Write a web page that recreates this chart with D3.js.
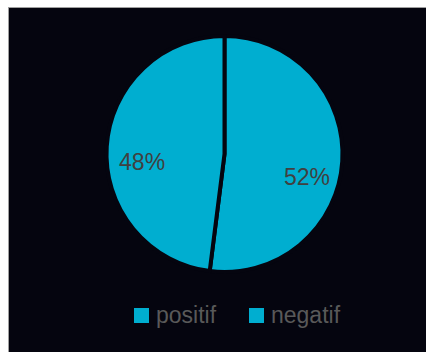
<!DOCTYPE html>
<html>
<head>
<script src="https://d3js.org/d3.v7.min.js"></script>
<style>
  body { margin: 0; background: #ffffff; }
  svg { display: block; }
</style>
</head>
<body>
<div id="chart"></div>
<script>
var categories = ["positif", "negatif"];
var values = [52, 48];
var labels = ["52%", "48%"];

var width = 426, height = 352;
var bg = "#05050f", sliceColor = "#00aed0";

var svg = d3.select("#chart").append("svg")
  .attr("width", width)
  .attr("height", height);

// white margin and grey frame like the original slide
svg.append("rect").attr("x", 8).attr("y", 7).attr("width", width - 8).attr("height", height - 7)
  .attr("fill", "#a0a0a0");
svg.append("rect").attr("x", 9).attr("y", 8).attr("width", width - 9).attr("height", height - 8)
  .attr("fill", bg);

var cx = 224.5, cy = 154, radius = 118;

var pie = d3.pie().value(function(d) { return d; }).sort(null);
var arc = d3.arc().innerRadius(0).outerRadius(radius);
var labelArc = d3.arc().innerRadius(radius * 0.7).outerRadius(radius * 0.7);
var labelShift = [18, 13]; // excel puts the labels a bit lower

var g = svg.append("g").attr("transform", "translate(" + cx + "," + cy + ")");

var arcs = pie(values);

g.selectAll("path")
  .data(arcs)
  .enter().append("path")
  .attr("d", arc)
  .attr("fill", sliceColor)
  .attr("stroke", bg)
  .attr("stroke-width", 4)
  .attr("stroke-linejoin", "round");

g.selectAll("text")
  .data(arcs)
  .enter().append("text")
  .attr("transform", function(d, i) {
    var c = labelArc.centroid(d);
    return "translate(" + c[0] + "," + (c[1] + labelShift[i]) + ")";
  })
  .attr("text-anchor", "middle")
  .attr("dy", "0.35em")
  .style("font", "23px 'Liberation Sans', Arial, sans-serif")
  .style("fill", "#404040")
  .text(function(d, i) { return labels[i]; });

// legend
var legendX = [134, 249];
var legend = svg.selectAll("g.legend")
  .data(categories)
  .enter().append("g")
  .attr("class", "legend")
  .attr("transform", function(d, i) { return "translate(" + legendX[i] + ",308)"; });

legend.append("rect")
  .attr("width", 15).attr("height", 15)
  .attr("fill", sliceColor);

legend.append("text")
  .attr("x", 22).attr("y", 15)
  .style("font", "23px 'Liberation Sans', Arial, sans-serif")
  .style("fill", "#595959")
  .text(function(d) { return d; });
</script>
</body>
</html>
